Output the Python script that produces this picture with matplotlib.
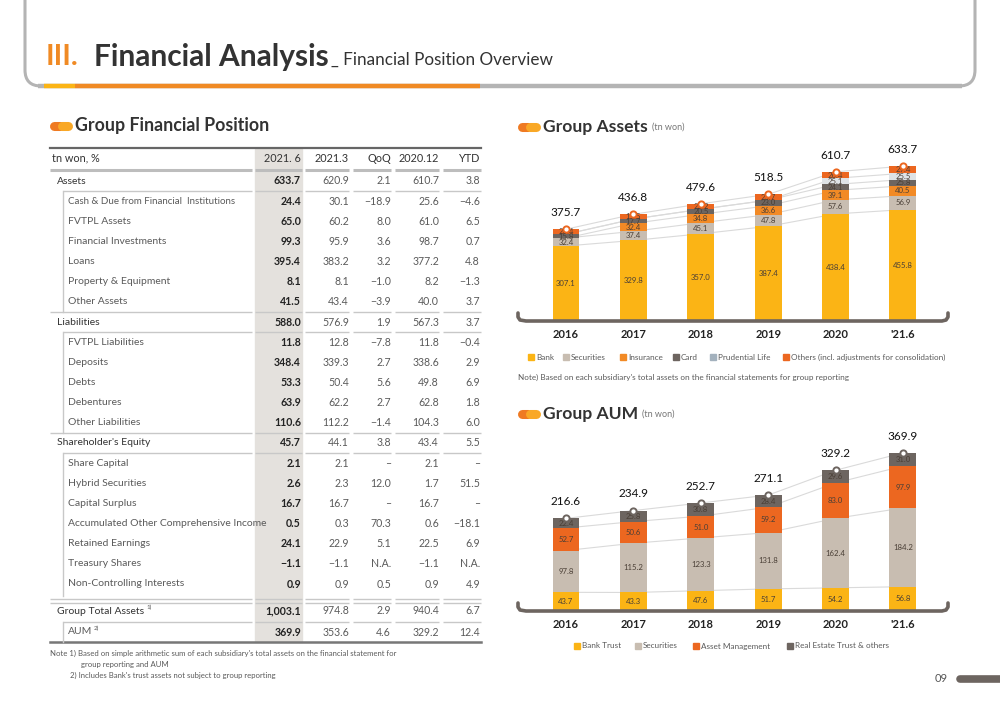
import numpy as np
import matplotlib.pyplot as plt
from matplotlib.patches import FancyBboxPatch, Rectangle

plt.rcParams['font.family'] = ['Lato', 'DejaVu Sans']

# ---- chart data (tn won) ----
years = ['2016', '2017', '2018', '2019', '2020', "'21.6"]

asset_names = ['Bank', 'Securities', 'Insurance', 'Card', 'Prudential Life',
               'Others (incl. adjustments for consolidation)']
bank = [307.1, 329.8, 357.0, 387.4, 438.4, 455.8]
securities = [32.4, 37.4, 45.1, 47.8, 57.6, 56.9]
insurance = [0, 32.4, 34.8, 36.6, 39.1, 40.5]
card = [15.8, 17.7, 20.5, 23.0, 24.1, 25.8]
prudential = [0, 0, 0, 0, 25.1, 25.5]
others = [20.4, 19.5, 22.2, 23.7, 26.4, 29.4]
asset_totals = [375.7, 436.8, 479.6, 518.5, 610.7, 633.7]

aum_names = ['Bank Trust', 'Securities', 'Asset Management', 'Real Estate Trust & others']
aum_bank_trust = [43.7, 43.3, 47.6, 51.7, 54.2, 56.8]
aum_securities = [97.8, 115.2, 123.3, 131.8, 162.4, 184.2]
aum_asset_mgmt = [52.7, 50.6, 51.0, 59.2, 83.0, 97.9]
aum_real_estate = [22.4, 25.8, 30.8, 28.4, 29.6, 31.0]
aum_totals = [216.6, 234.9, 252.7, 271.1, 329.2, 369.9]

# ---- table data ----
table_cols = ['2021. 6', '2021.3', 'QoQ', '2020.12', 'YTD']
row_labels = ['Assets', 'Cash & Due from Financial  Institutions', 'FVTPL Assets',
              'Financial Investments', 'Loans', 'Property & Equipment', 'Other Assets',
              'Liabilities', 'FVTPL Liabilities', 'Deposits', 'Debts', 'Debentures',
              'Other Liabilities', "Shareholder's Equity", 'Share Capital',
              'Hybrid Securities', 'Capital Surplus',
              'Accumulated Other Comprehensive Income', 'Retained Earnings',
              'Treasury Shares', 'Non-Controlling Interests',
              'Group Total Assets', 'AUM']
row_level = [0, 1, 1, 1, 1, 1, 1, 0, 1, 1, 1, 1, 1, 0, 1, 1, 1, 1, 1, 1, 1, 0, 1]
v_2021_6 = ['633.7', '24.4', '65.0', '99.3', '395.4', '8.1', '41.5', '588.0', '11.8',
            '348.4', '53.3', '63.9', '110.6', '45.7', '2.1', '2.6', '16.7', '0.5',
            '24.1', '−1.1', '0.9', '1,003.1', '369.9']
v_2021_3 = ['620.9', '30.1', '60.2', '95.9', '383.2', '8.1', '43.4', '576.9', '12.8',
            '339.3', '50.4', '62.2', '112.2', '44.1', '2.1', '2.3', '16.7', '0.3',
            '22.9', '−1.1', '0.9', '974.8', '353.6']
v_qoq = ['2.1', '−18.9', '8.0', '3.6', '3.2', '−1.0', '−3.9', '1.9', '−7.8', '2.7',
         '5.6', '2.7', '−1.4', '3.8', '–', '12.0', '–', '70.3', '5.1', 'N.A.', '0.5',
         '2.9', '4.6']
v_2020_12 = ['610.7', '25.6', '61.0', '98.7', '377.2', '8.2', '40.0', '567.3', '11.8',
             '338.6', '49.8', '62.8', '104.3', '43.4', '2.1', '1.7', '16.7', '0.6',
             '22.5', '−1.1', '0.9', '940.4', '329.2']
v_ytd = ['3.8', '−4.6', '6.5', '0.7', '4.8', '−1.3', '3.7', '3.7', '−0.4', '2.9', '6.9',
         '1.8', '6.0', '5.5', '–', '51.5', '–', '−18.1', '6.9', 'N.A.', '4.9', '6.7',
         '12.4']

# ---- colours ----
C_BANK = '#fbb415'
C_SEC = '#c8bdb1'
C_INS = '#f28a25'
C_CARD = '#6d6560'
C_PRU = '#dfe3e6'
C_OTH = '#ec6720'
DARK = '#333333'
GREY = '#5a5a5a'

fig = plt.figure(figsize=(10, 7.07), dpi=100)
bg = fig.add_axes([0, 0, 1, 1])
bg.set_xlim(0, 1000)
bg.set_ylim(707, 0)
bg.axis('off')

# header frame
bg.add_patch(FancyBboxPatch((25, -40), 950, 126, boxstyle='round,pad=0,rounding_size=16',
                            fill=False, edgecolor='#b4b4b4', lw=2.2))
bg.plot([38, 962], [86, 86], color='#b4b4b4', lw=3.2, solid_capstyle='butt')
bg.plot([75, 480], [86, 86], color='#f08a24', lw=3.2, solid_capstyle='butt')
bg.plot([44, 75], [86, 86], color='#fbb415', lw=3.2, solid_capstyle='butt')
bg.text(46, 57, 'III.', fontsize=21, fontweight='bold', color='#f08a24', va='center')
bg.text(94, 57, 'Financial Analysis', fontsize=21.5, fontweight='bold', color=DARK, va='center')
bg.text(331, 60, '_ Financial Position Overview', fontsize=12.3, color=DARK, va='center')


def section(x, y, title, unit=None, size=12.6):
    bg.plot([x + 4, x + 10], [y, y], color='#ef7a22', lw=6.5, solid_capstyle='round')
    bg.plot([x + 12, x + 18], [y, y], color='#f9a826', lw=6.5, solid_capstyle='round')
    t = bg.text(x + 25, y, title, fontsize=size, fontweight='bold', color=DARK, va='center')
    if unit:
        bg.annotate(unit, xy=(1, 0.5), xycoords=t, xytext=(3, 0), textcoords='offset points',
                    fontsize=6.5, color='#777777', va='center')


section(50, 126, 'Group Financial Position', size=12.8)
section(518, 127, 'Group Assets', '(tn won)')
section(518, 414, 'Group AUM', '(tn won)')

# ---- table ----
col_right = [301, 349, 391, 439, 480]
col_spans = [(255, 302), (305, 349), (353, 391), (395, 439), (443, 481)]
bg.add_patch(Rectangle((255, 149), 47, 493, color='#e4e1dd', zorder=0))


def hline(y, x0, color='#c8c8c8', lw=1.0):
    for a, b in [(x0, 252)] + col_spans:
        bg.plot([a, b], [y, y], color=color, lw=lw, solid_capstyle='butt')


bg.plot([50, 481], [148, 148], color='#666666', lw=1.6)
bg.text(52, 158, 'tn won, %', fontsize=7.8, color=DARK, va='center')
for cx, h in zip(col_right, table_cols):
    bg.text(cx, 158, h, fontsize=7.8, color=DARK, va='center', ha='right')
hline(170, 50, color='#bdbdbd', lw=2.2)

row_y = [181 + i * 20.15 for i in range(21)] + [611, 632]
for i, (lab, lev) in enumerate(zip(row_labels, row_level)):
    y = row_y[i]
    fs = 7.0 if len(lab) > 38 else 7.5
    if lev == 0:
        t = bg.text(57, y, lab, fontsize=fs, color=DARK, va='center')
    else:
        t = bg.text(68, y, lab, fontsize=fs, color=GREY, va='center')
    if lab == 'Group Total Assets':
        bg.annotate('1)', xy=(1, 1), xycoords=t, xytext=(2, 1), textcoords='offset points',
                    fontsize=4.5, color=GREY, va='top')
    if lab == 'AUM':
        bg.annotate('2)', xy=(1, 1), xycoords=t, xytext=(1, 1), textcoords='offset points',
                    fontsize=4.5, color=GREY, va='top')
    vals = [v_2021_6[i], v_2021_3[i], v_qoq[i], v_2020_12[i], v_ytd[i]]
    for j, (cx, v) in enumerate(zip(col_right, vals)):
        if j == 0:
            bg.text(cx, y, v, fontsize=7.6, color='#222222', fontweight='bold', va='center', ha='right')
        else:
            bg.text(cx, y, v, fontsize=7.6, color=GREY, va='center', ha='right')

for y in [191, 332, 453, 622]:
    hline(y, 63)
for y in [312, 433]:
    hline(y, 50)
hline(599, 50, color='#c8c8c8', lw=1.0)
hline(603, 50, color='#c8c8c8', lw=1.0)
bg.plot([50, 481], [642, 642], color='#777777', lw=1.8)
for a, b in [(191, 312), (332, 433), (453, 596), (622, 642)]:
    bg.plot([63, 63], [a, b], color='#c8c8c8', lw=1.0)

bg.text(50, 653, "Note 1) Based on simple arithmetic sum of each subsidiary's total assets on the financial statement for",
        fontsize=5.6, color=GREY, va='center')
bg.text(81, 664, 'group reporting and AUM', fontsize=5.6, color=GREY, va='center')
bg.text(70, 675, "2) Includes Bank's trust assets not subject to group reporting",
        fontsize=5.6, color=GREY, va='center')


# ---- stacked bar charts ----
def stacked(rect, layers, colors, totals, ymax, ring):
    ax = fig.add_axes(rect)
    ax.patch.set_alpha(0)
    x = np.arange(len(years))
    base = np.zeros(len(years))
    for vals, c in zip(layers, colors):
        vals = np.array(vals, dtype=float)
        ax.bar(x, vals, bottom=base, width=0.4, color=c, zorder=2)
        for xi, b, v in zip(x, base, vals):
            if v > 0:
                ax.text(xi, b + v / 2, f'{v:.1f}', ha='center', va='center',
                        fontsize=5.6, color='#4a3f36', zorder=3)
        base = base + vals
        ax.plot(x, base, color='#dadada', lw=0.8, zorder=1)
    ax.plot(x, totals, 'o', mfc='white', mec=ring, ms=4.5, mew=1.4, zorder=4)
    for xi, tv in zip(x, totals):
        ax.annotate(f'{tv:.1f}', xy=(xi, tv), xytext=(0, 8), textcoords='offset points',
                    ha='center', va='bottom', fontsize=8.5, color='#111111')
    ax.set_xlim(-0.712, 5.668)
    ax.set_ylim(0, ymax)
    ax.set_xticks(x)
    ax.set_xticklabels(years, fontsize=8, fontweight='bold', color='#222222')
    ax.tick_params(length=0, pad=6)
    ax.set_yticks([])
    for s in ax.spines.values():
        s.set_visible(False)
    return ax


def bracket(y):
    xs = [518, 518, 520, 526, 942, 946, 948, 948]
    ys = [y - 8, y - 4, y - 1, y, y, y - 1, y - 4, y - 8]
    bg.plot(xs, ys, color='#6d6560', lw=2.6, solid_capstyle='round', solid_joinstyle='round', zorder=5)


ax1 = stacked([0.518, 1 - 321 / 707, 0.430, 171 / 707],
              [bank, securities, insurance, card, prudential, others],
              [C_BANK, C_SEC, C_INS, C_CARD, C_PRU, C_OTH], asset_totals, 700, C_OTH)
ax2 = stacked([0.518, 1 - 611 / 707, 0.430, 171 / 707],
              [aum_bank_trust, aum_securities, aum_asset_mgmt, aum_real_estate],
              [C_BANK, C_SEC, C_OTH, C_CARD], aum_totals, 400, C_CARD)
bg.set_zorder(3)
bg.patch.set_alpha(0)
bracket(321)
bracket(611)

# legends
leg1_x = [531, 566, 623, 676, 713, 786]
leg1_c = [C_BANK, C_SEC, C_INS, C_CARD, '#a3b1bd', C_OTH]
for lx, name, c in zip(leg1_x, asset_names, leg1_c):
    bg.add_patch(Rectangle((lx - 3, 354), 6, 6, color=c))
    bg.text(lx + 5, 357, name, fontsize=5.9, color=GREY, va='center')
bg.text(518, 377, "Note) Based on each subsidiary's total assets on the financial statements for group reporting",
        fontsize=5.9, color=GREY, va='center')

leg2_x = [577, 638, 696, 790]
for lx, name, c in zip(leg2_x, aum_names, [C_BANK, C_SEC, C_OTH, C_CARD]):
    bg.add_patch(Rectangle((lx - 3, 643), 6, 6, color=c))
    bg.text(lx + 5, 646, name, fontsize=5.9, color=GREY, va='center')

# page number
bg.text(948, 679, '09', fontsize=8, color='#555555', va='center', ha='right')
bg.plot([960, 1010], [679, 679], color='#6d6560', lw=5.5, solid_capstyle='round')

fig.savefig('out.png', dpi=100)
